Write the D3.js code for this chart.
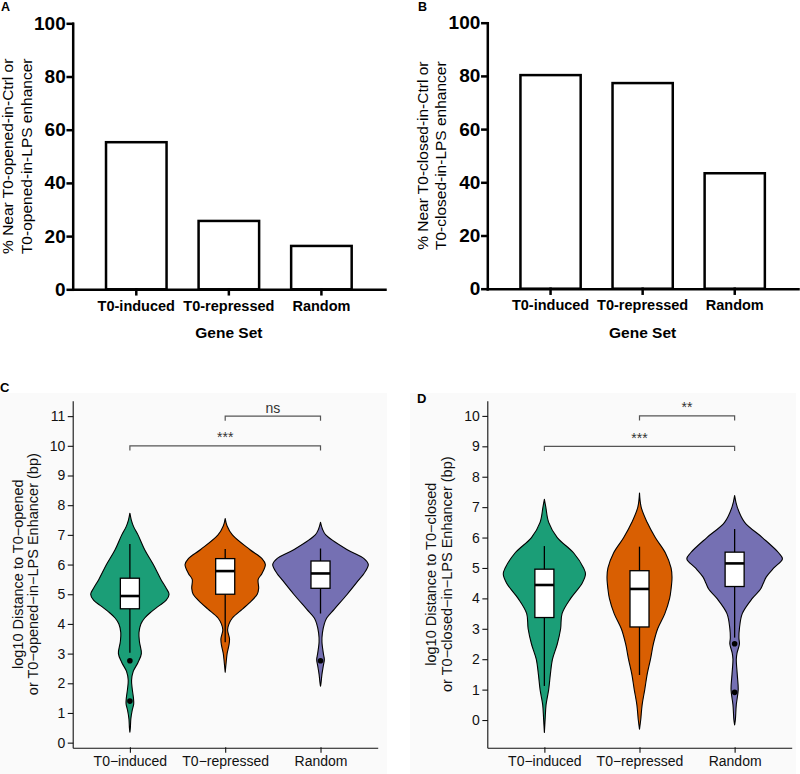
<!DOCTYPE html>
<html><head><meta charset="utf-8">
<script src="https://cdn.jsdelivr.net/npm/d3@7"></script>
<style>body{margin:0;background:#fff;} svg{display:block;}</style>
</head><body>
<svg id="chart" width="800" height="774"></svg>
<script>
// ---------------- DATA ----------------
const barCategories = ["T0-induced", "T0-repressed", "Random"];
const barValuesA = [55.3, 25.7, 16.3];
const barValuesB = [80.3, 77.3, 43.4];
const barTicks = [0, 20, 40, 60, 80, 100];

const violinCategories = ["T0\u2212induced", "T0\u2212repressed", "Random"];
const ticksC = [0, 1, 2, 3, 4, 5, 6, 7, 8, 9, 10, 11];
const ticksD = [0, 1, 2, 3, 4, 5, 6, 7, 8, 9, 10];

// violin density profiles: [log10 distance, relative density]
const densC_induced = [[7.73,0],[7.5,0.03],[7.27,0.08],[7.0,0.17],[6.5,0.31],[6.0,0.49],[5.5,0.65],[5.2,0.76],[5.0,0.82],[4.8,0.76],[4.6,0.6],[4.4,0.44],[4.2,0.31],[4.0,0.23],[3.7,0.19],[3.4,0.2],[3.0,0.24],[2.7,0.17],[2.4,0.07],[2.1,0.035],[1.8,0.05],[1.5,0.075],[1.3,0.08],[1.1,0.05],[0.8,0.02],[0.5,0.01],[0.35,0]];
const densC_repressed = [[7.55,0],[7.3,0.04],[7.0,0.15],[6.5,0.52],[6.2,0.77],[6.0,0.84],[5.7,0.77],[5.5,0.69],[5.2,0.7],[5.0,0.67],[4.7,0.5],[4.5,0.36],[4.2,0.15],[4.0,0.08],[3.8,0.05],[3.5,0.09],[3.3,0.08],[3.0,0.04],[2.7,0.02],[2.37,0]];
const densC_random = [[7.42,0],[7.2,0.04],[7.0,0.11],[6.5,0.56],[6.2,0.91],[6.0,1.0],[5.7,0.91],[5.5,0.81],[5.0,0.56],[4.5,0.29],[4.2,0.13],[4.0,0.08],[3.7,0.04],[3.4,0.03],[3.0,0.06],[2.8,0.08],[2.6,0.06],[2.3,0.03],[2.0,0.01],[1.9,0]];

const densD_induced = [[7.26,0],[7.0,0.03],[6.5,0.09],[6.0,0.27],[5.5,0.61],[5.0,0.82],[4.8,0.86],[4.5,0.79],[4.0,0.55],[3.5,0.37],[3.0,0.34],[2.5,0.27],[2.0,0.17],[1.5,0.125],[1.0,0.09],[0.5,0.035],[0.0,0.015],[-0.41,0]];
const densD_repressed = [[7.46,0],[7.0,0.035],[6.5,0.16],[6.0,0.33],[5.5,0.54],[5.0,0.66],[4.7,0.68],[4.3,0.66],[4.0,0.63],[3.5,0.53],[3.0,0.38],[2.5,0.29],[2.0,0.23],[1.5,0.16],[1.0,0.11],[0.5,0.055],[0.0,0.025],[-0.3,0]];
const densD_random = [[7.38,0],[7.0,0.055],[6.5,0.21],[6.0,0.58],[5.5,0.92],[5.3,1.0],[5.0,0.82],[4.7,0.66],[4.5,0.6],[4.3,0.54],[4.0,0.37],[3.5,0.16],[3.0,0.1],[2.7,0.09],[2.5,0.1],[2.2,0.05],[2.0,0.035],[1.5,0.055],[1.0,0.075],[0.5,0.035],[0.0,0.015],[-0.16,0]];

// box stats: [lower whisker, Q1, median, Q3, upper whisker]
const boxC = [[3.03,4.51,4.94,5.54,6.69],[3.38,5.0,5.78,6.2,6.52],[4.35,5.2,5.7,6.12,6.54]];
const outliersC = [[2.76,1.40],[],[2.76]];
const boxD = [[1.12,3.37,4.44,4.96,5.72],[1.48,3.06,4.31,4.91,5.70],[2.71,4.39,5.15,5.52,6.28]];
const outliersD = [[],[],[2.51,0.91]];

// significance brackets: [from index, to index, level, label]
const sigC = [[1,2,11,"ns"],[0,2,10,"***"]];
const sigD = [[1,2,10,"**"],[0,2,9,"***"]];

// ---------------- DRAWING ----------------
const FONT = "'Liberation Sans', Arial, Helvetica, sans-serif";
const violinColors = ["#1B9E77", "#D95F02", "#7570B3"];
const svg = d3.select("#chart");
svg.append("rect").attr("width",800).attr("height",774).attr("fill","#fff");

function styleAxis(a, size, weight, color, sw) {
  a.attr("font-family", FONT).attr("font-size", size).attr("font-weight", weight);
  a.selectAll("path,line").attr("stroke", color).attr("stroke-width", sw).attr("stroke-linecap","square");
  a.selectAll("text").attr("fill", color);
}

function barPanel(cfg) {
  const g = svg.append("g");
  const x = d3.scaleBand().domain(barCategories).range([cfg.x0, cfg.x1]).paddingInner(0.346).paddingOuter(0.36);
  const y = d3.scaleLinear().domain([0, 100]).range([cfg.yb, cfg.yt]);
  g.selectAll("rect.bar").data(cfg.values).join("rect").attr("class","bar")
    .attr("x", (d,i) => x(barCategories[i])).attr("y", d => y(d))
    .attr("width", x.bandwidth()).attr("height", d => y(0) - y(d))
    .attr("fill","#fff").attr("stroke","#000").attr("stroke-width",2.5);
  const ya = g.append("g").attr("transform",`translate(${cfg.x0},0)`)
    .call(d3.axisLeft(y).tickValues(barTicks).tickSize(5).tickSizeOuter(0).tickPadding(2));
  styleAxis(ya, 19, "bold", "#000", 2.5);
  const xa = g.append("g").attr("transform",`translate(0,${cfg.yb})`)
    .call(d3.axisBottom(x).tickSize(5).tickSizeOuter(0).tickPadding(6));
  styleAxis(xa, 14.5, "bold", "#000", 2.5);
  g.append("text").attr("x", (x(barCategories[1]) + x.bandwidth()/2)).attr("y", 338)
    .attr("text-anchor","middle").attr("font-family",FONT).attr("font-weight","bold")
    .attr("font-size",15.5).text("Gene Set");
  const yc = (cfg.yb + cfg.yt) / 2;
  cfg.title.forEach((t,i) => {
    g.append("text").attr("transform",`translate(${cfg.titleX[i]},${yc}) rotate(-90)`)
      .attr("text-anchor","middle").attr("font-family",FONT).attr("font-size",15.5).text(t);
  });
  g.append("text").attr("x",cfg.labX).attr("y",11).attr("font-family",FONT).attr("font-weight","bold")
    .attr("font-size",12.5).text(cfg.label);
}

function violinPanel(cfg) {
  const g = svg.append("g");
  g.append("rect").attr("x",cfg.bg[0]).attr("y",cfg.bg[1]).attr("width",cfg.bg[2]).attr("height",cfg.bg[3]).attr("fill","#fafafa");
  const x = d3.scalePoint().domain(violinCategories).range([cfg.x0, cfg.x1]).padding(0.6);
  const y = d3.scaleLinear().domain(cfg.ydom).range([747.7, 400.7]);
  const w = d3.scaleLinear().domain([0, 1]).range([0, 47.8]);
  const bw = x.step() * 0.1;
  cfg.dens.forEach((dens, i) => {
    const cx = x(violinCategories[i]);
    const area = d3.area().y(d => y(d[0])).x0(d => cx - w(d[1])).x1(d => cx + w(d[1]))
      .curve(d3.curveCatmullRom.alpha(0.5));
    g.append("path").attr("d", area(dens)).attr("fill", violinColors[i])
      .attr("stroke","#000").attr("stroke-width",1.1).attr("stroke-linejoin","round");
  });
  cfg.box.forEach((b, i) => {
    const cx = x(violinCategories[i]);
    g.append("line").attr("x1",cx).attr("x2",cx).attr("y1",y(b[0])).attr("y2",y(b[4]))
      .attr("stroke","#000").attr("stroke-width",1.3);
    g.append("rect").attr("x",cx-bw).attr("width",bw*2).attr("y",y(b[3])).attr("height",y(b[1])-y(b[3]))
      .attr("fill","#fff").attr("stroke","#000").attr("stroke-width",1.3);
    g.append("line").attr("x1",cx-bw).attr("x2",cx+bw).attr("y1",y(b[2])).attr("y2",y(b[2]))
      .attr("stroke","#000").attr("stroke-width",2.6);
    g.selectAll(null).data(cfg.out[i]).join("circle").attr("cx",cx).attr("cy",d=>y(d)).attr("r",2.8).attr("fill","#000");
  });
  cfg.sig.forEach(s => {
    const xa = x(violinCategories[s[0]]), xb = x(violinCategories[s[1]]), yy = y(s[2]);
    g.append("path").attr("d", d3.line()([[xa,yy+4.7],[xa,yy],[xb,yy],[xb,yy+4.7]]))
      .attr("fill","none").attr("stroke","#555").attr("stroke-width",1.2);
    g.append("text").attr("x",(xa+xb)/2).attr("y",yy-3.5).attr("text-anchor","middle")
      .attr("font-family",FONT).attr("font-size",14).attr("fill","#333").text(s[3]);
  });
  const ya = g.append("g").attr("transform",`translate(${cfg.x0},0)`)
    .call(d3.axisLeft(y).tickValues(cfg.ticks).tickSize(4.4).tickSizeOuter(0).tickPadding(3));
  styleAxis(ya, 14, "normal", "#111", 1.1);
  ya.selectAll("path").attr("stroke-linecap","butt");
  const xa = g.append("g").attr("transform",`translate(0,747.7)`)
    .call(d3.axisBottom(x).tickSize(4.4).tickSizeOuter(0).tickPadding(4.4));
  styleAxis(xa, 14, "normal", "#111", 1.1);
  xa.selectAll("path").attr("stroke-linecap","butt");
  cfg.title.forEach((t,i) => {
    g.append("text").attr("transform",`translate(${cfg.titleX[i]},574.2) rotate(-90)`)
      .attr("text-anchor","middle").attr("font-family",FONT).attr("font-size",14.5).attr("fill","#111").text(t);
  });
  g.append("text").attr("x",cfg.labX).attr("y",cfg.labY).attr("font-family",FONT).attr("font-weight","bold")
    .attr("font-size",13).text(cfg.label);
}

barPanel({x0:72.7, x1:385, yb:289.3, yt:23.3, values:barValuesA, label:"A", labX:1,
  title:["% Near T0-opened-in-Ctrl or","T0-opened-in-LPS enhancer"], titleX:[13.3,31.7]});
barPanel({x0:487.3, x1:798, yb:288.7, yt:22.7, values:barValuesB, label:"B", labX:418,
  title:["% Near T0-closed-in-Ctrl or","T0-closed-in-LPS enhancer"], titleX:[428,446]});

violinPanel({x0:72.7, x1:377.7, ydom:[-0.17, 11.52], ticks:ticksC,
  dens:[densC_induced, densC_repressed, densC_random], box:boxC, out:outliersC, sig:sigC,
  title:["log10 Distance to T0\u2212opened","or T0\u2212opened\u2212in\u2212LPS Enhancer (bp)"], titleX:[22.5,38],
  label:"C", labX:0, labY:391.7, bg:[0,393,387,381]});
violinPanel({x0:487.3, x1:791.7, ydom:[-0.91, 10.5], ticks:ticksD,
  dens:[densD_induced, densD_repressed, densD_random], box:boxD, out:outliersD, sig:sigD,
  title:["log10 Distance to T0\u2212closed","or T0\u2212closed\u2212in\u2212LPS Enhancer (bp)"], titleX:[436,452],
  label:"D", labX:417, labY:403.3, bg:[410,393,386,381]});
</script>
</body></html>
